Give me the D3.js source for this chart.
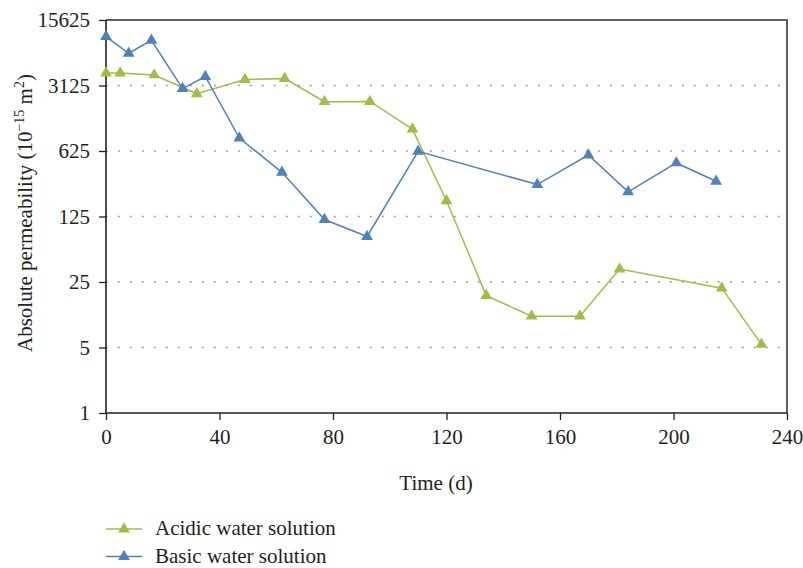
<!DOCTYPE html>
<html>
<head>
<meta charset="utf-8">
<script src="https://cdn.jsdelivr.net/npm/d3@7"></script>
<style>
  body { margin: 0; background: #fff; }
</style>
</head>
<body>
<svg id="chart" width="803" height="568"></svg>
<script>
// data
var acidicDays = [0, 5, 17, 32, 49, 63, 77, 93, 108, 120, 134, 150, 167, 181, 217, 231];
var acidicPerm = [4250, 4250, 4050, 2550, 3620, 3700, 2100, 2110, 1070, 184, 17.9, 10.8, 10.8, 34.4, 21.5, 5.4];
var basicDays = [0, 8, 16, 27, 35, 47, 62, 77, 92, 110, 152, 170, 184, 201, 215];
var basicPerm = [10400, 6900, 9500, 2900, 3900, 860, 370, 116, 76.5, 620, 274, 566, 229, 466, 297];
var xTicks = [0, 40, 80, 120, 160, 200, 240];
var yTicks = [1, 5, 25, 125, 625, 3125, 15625];
var seriesNames = ['Acidic water solution', 'Basic water solution'];
var seriesColors = ['#9fbe45', '#4f81bd'];

var FONT = "'Liberation Serif', 'DejaVu Serif', serif";
var INK = '#231f20';

var margin = {left: 106, right: 16, top: 20, bottom: 155};
var width = 803 - margin.left - margin.right;
var height = 568 - margin.top - margin.bottom;

var svg = d3.select('#chart');
var g = svg.append('g')
    .attr('transform', 'translate(' + margin.left + ',' + margin.top + ')');

var x = d3.scaleLinear().domain([0, 240]).range([0, width]);
var y = d3.scaleLog().base(5).domain([1, 15625]).range([height, 0]);

// dotted gridlines
g.selectAll('.grid')
    .data(yTicks.slice(1, -1))
    .enter().append('line')
    .attr('class', 'grid')
    .attr('x1', 0).attr('x2', width)
    .attr('y1', function(d) { return y(d); })
    .attr('y2', function(d) { return y(d); })
    .style('stroke', '#888')
    .style('stroke-width', 1.6)
    .style('stroke-dasharray', '1.6,10.4');

// frame top/right
g.append('path')
    .attr('d', 'M0,0H' + width + 'V' + height)
    .style('fill', 'none')
    .style('stroke', '#606060')
    .style('stroke-width', 2);

var xAxis = d3.axisBottom(x).tickValues(xTicks).tickSize(7).tickPadding(9).tickFormat(d3.format('d'));
var yAxis = d3.axisLeft(y).tickValues(yTicks).tickSize(7).tickPadding(9).tickFormat(d3.format('d'));

var gx = g.append('g')
    .attr('transform', 'translate(0,' + height + ')')
    .call(xAxis);
var gy = g.append('g').call(yAxis);

[gx, gy].forEach(function(a) {
    a.attr('font-family', null).attr('font-size', null);
    a.select('.domain').style('stroke', INK).style('stroke-width', 1.6);
    a.selectAll('.tick line').style('stroke', INK).style('stroke-width', 1.3);
    a.selectAll('.tick text')
        .style('font-family', FONT)
        .style('font-size', '21px')
        .attr('fill', INK);
});
gy.select('.domain').attr('d', 'M0,0V' + height);
gx.select('.domain').attr('d', 'M0,0H' + width);

// series
var series = [
    {days: acidicDays, perm: acidicPerm},
    {days: basicDays, perm: basicPerm}
];

var line = d3.line()
    .x(function(d) { return x(d[0]); })
    .y(function(d) { return y(d[1]); });

var tri = d3.symbol().type(d3.symbolTriangle).size(60);

series.forEach(function(s, i) {
    var pts = d3.zip(s.days, s.perm);
    g.append('path')
        .datum(pts)
        .attr('d', line)
        .style('fill', 'none')
        .style('stroke', seriesColors[i])
        .style('stroke-width', 1.5);
    g.selectAll('.mk' + i)
        .data(pts)
        .enter().append('path')
        .attr('class', 'mk' + i)
        .attr('d', tri)
        .attr('transform', function(d) { return 'translate(' + x(d[0]) + ',' + y(d[1]) + ')'; })
        .style('fill', seriesColors[i]);
});

// axis titles
svg.append('text')
    .attr('x', 436)
    .attr('y', 490)
    .style('text-anchor', 'middle')
    .style('font-family', FONT)
    .style('font-size', '21px')
    .attr('fill', INK)
    .text('Time (d)');

var yt = svg.append('text')
    .attr('transform', 'translate(32,213) rotate(-90)')
    .style('text-anchor', 'middle')
    .style('font-family', FONT)
    .style('font-size', '21px')
    .attr('fill', INK);
yt.append('tspan').text('Absolute permeability (10');
yt.append('tspan').attr('dy', -8).style('font-size', '14px').text('\u221215');
yt.append('tspan').attr('dy', 8).text(' m');
yt.append('tspan').attr('dy', -8).style('font-size', '14px').text('2');
yt.append('tspan').attr('dy', 8).text(')');

// legend
var legend = svg.append('g').attr('transform', 'translate(106,529)');
seriesNames.forEach(function(name, i) {
    var row = legend.append('g').attr('transform', 'translate(0,' + (i * 27.5) + ')');
    row.append('line')
        .attr('x1', 0).attr('x2', 36)
        .style('stroke', seriesColors[i])
        .style('stroke-width', 1.5);
    row.append('path')
        .attr('d', tri)
        .attr('transform', 'translate(18,0)')
        .style('fill', seriesColors[i]);
    row.append('text')
        .attr('x', 49)
        .attr('y', 6)
        .style('font-family', FONT)
        .style('font-size', '21px')
        .attr('fill', INK)
        .text(name);
});
</script>
</body>
</html>
